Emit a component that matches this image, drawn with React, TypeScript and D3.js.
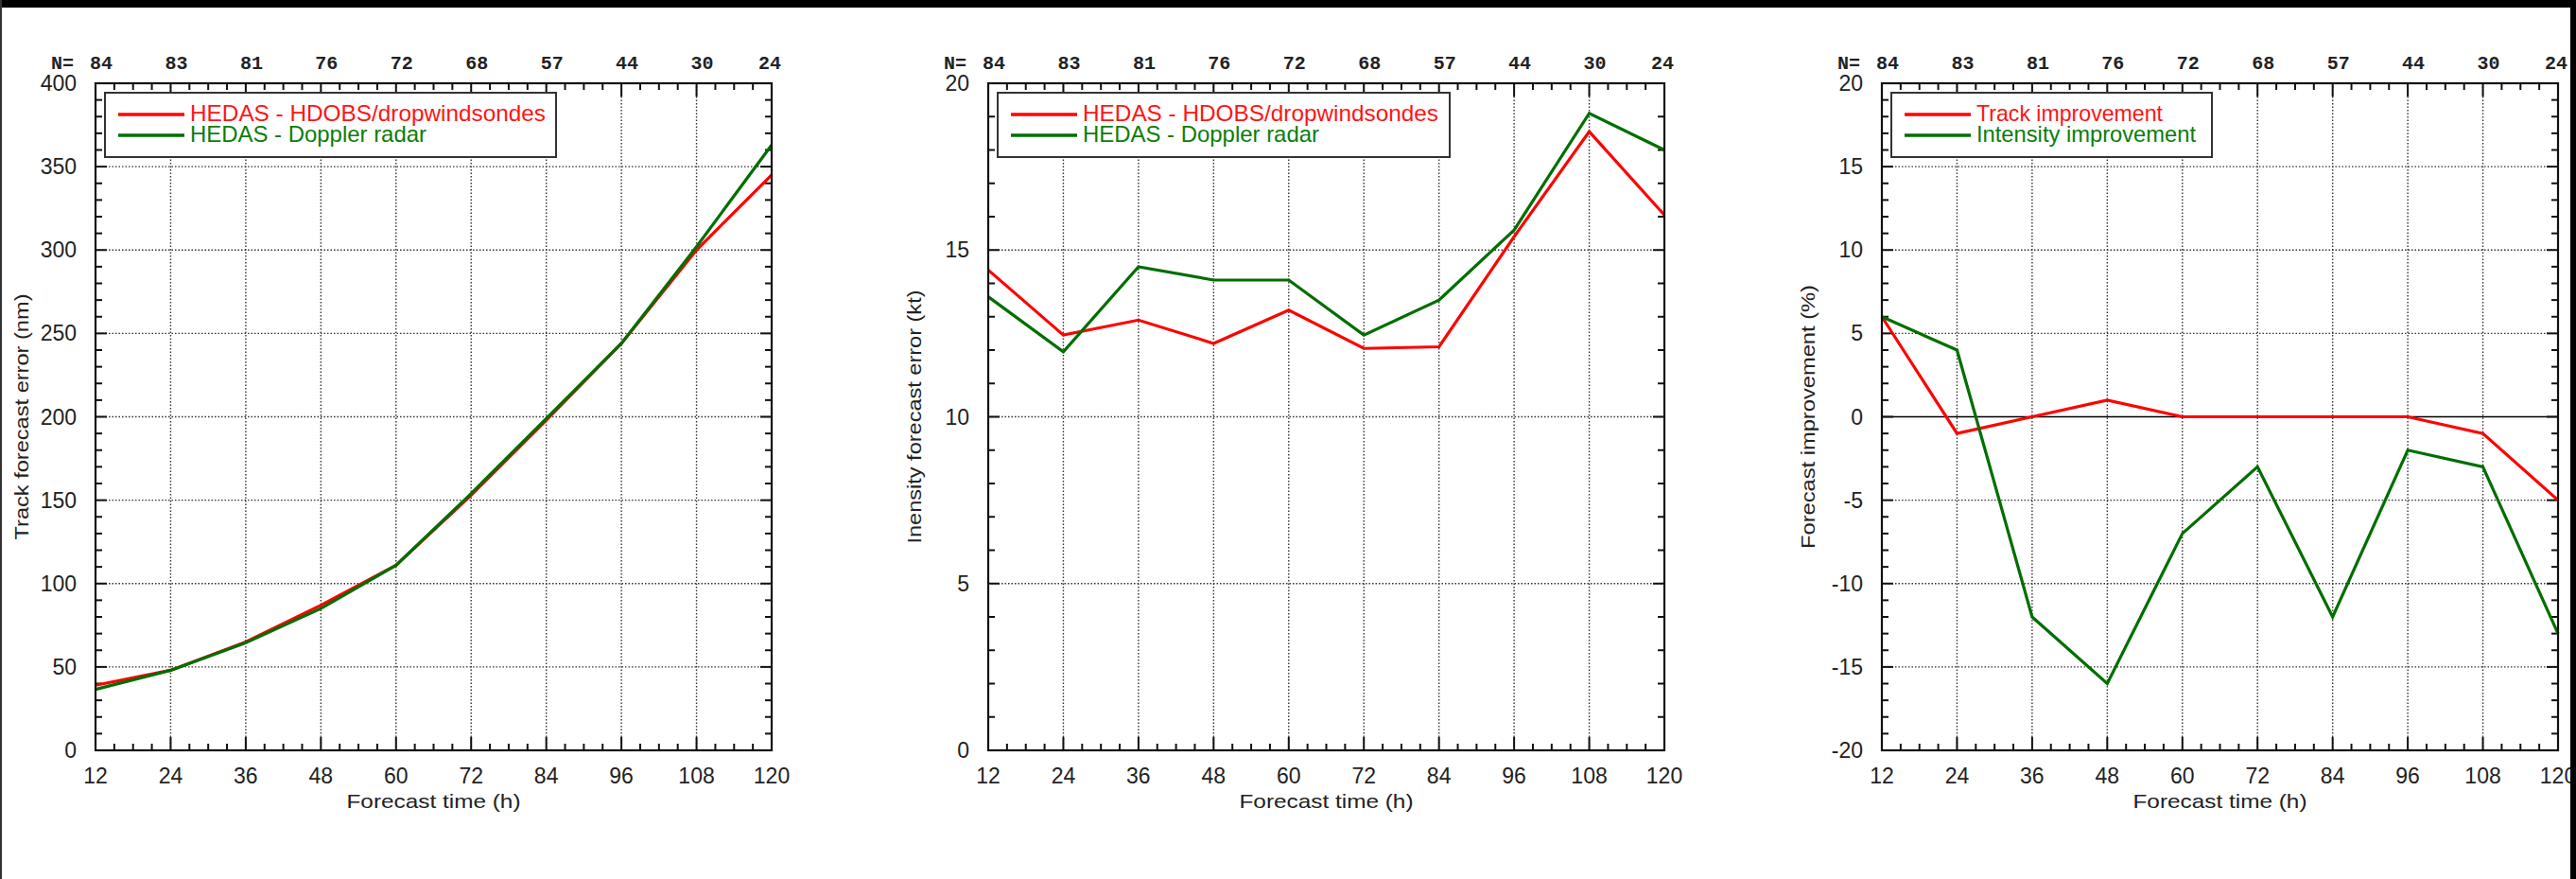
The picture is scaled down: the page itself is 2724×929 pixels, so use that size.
import React from 'react';
import * as d3 from 'd3';

// forecast lead times and sample sizes
const hours = [12, 24, 36, 48, 60, 72, 84, 96, 108, 120];
const sampleN = [84, 83, 81, 76, 72, 68, 57, 44, 30, 24];

// track error (nm)
const trackHdobs = [39, 48, 65, 87, 111, 153, 198, 244, 300, 345];
const trackDoppler = [36.5, 48, 64.5, 85, 111, 154, 199, 244, 302, 363];

// intensity error (kt)
const intHdobs = [14.4, 12.45, 12.9, 12.2, 13.2, 12.05, 12.1, 15.4, 18.55, 16.05];
const intDoppler = [13.6, 11.95, 14.5, 14.1, 14.1, 12.45, 13.5, 15.6, 19.1, 18.0];

// improvement (%)
const trackImp = [6, -1, 0, 1, 0, 0, 0, 0, -1, -5];
const intImp = [6, 4, -12, -16, -7, -3, -12, -2, -3, -13];

const RED = '#ff0000';
const GREEN = '#006e00';
const RED_TXT = '#ff1414';
const GREEN_TXT = '#0b7d0b';
const SANS = '"Liberation Sans", Arial, Helvetica, sans-serif';
const MONO = '"Liberation Mono", "DejaVu Sans Mono", monospace';

const W = 2724, H = 929;
const TOP = 88, PH = 705, PW = 715;

const panels = [
  {
    left: 101, domain: [0, 400], major: 50, minor: 10,
    title: 'Track forecast error (nm)', titleLen: 260,
    series: [trackHdobs, trackDoppler],
    labels: ['HEDAS - HDOBS/dropwindsondes', 'HEDAS - Doppler radar'],
    labelLens: [376, 250], boxW: 477, zero: false,
  },
  {
    left: 1045, domain: [0, 20], major: 5, minor: 1,
    title: 'Inensity forecast error (kt)', titleLen: 268,
    series: [intHdobs, intDoppler],
    labels: ['HEDAS - HDOBS/dropwindsondes', 'HEDAS - Doppler radar'],
    labelLens: [376, 250], boxW: 478, zero: false,
  },
  {
    left: 1990, domain: [-20, 20], major: 5, minor: 1,
    title: 'Forecast improvement (%)', titleLen: 279,
    series: [trackImp, intImp],
    labels: ['Track improvement', 'Intensity improvement'],
    labelLens: [197, 232], boxW: 339, zero: true,
  },
];

function Panel({ p }: { p: typeof panels[number] }) {
  const x = d3.scaleLinear().domain([12, 120]).range([p.left, p.left + PW]);
  const y = d3.scaleLinear().domain(p.domain).range([TOP + PH, TOP]);
  const bottom = TOP + PH, right = p.left + PW;

  const xMajor = d3.range(12, 121, 12);
  const xMinor = d3.range(12, 121, 3).filter(v => (v - 12) % 12 !== 0);
  const yMajor = d3.range(p.domain[0], p.domain[1] + 0.001, p.major);
  const yMinor = d3.range(p.domain[0], p.domain[1] + 0.001, p.minor)
    .filter(v => Math.abs(v / p.major - Math.round(v / p.major)) > 1e-6);

  const line = d3.line<number>().x((_, i) => x(hours[i])).y(d => y(d));
  const colors = [RED, GREEN];
  const txtColors = [RED_TXT, GREEN_TXT];

  const bx = p.left + 10, by = 98, bh = 68;

  return (
    <g>
      {/* grid */}
      {xMajor.slice(1, -1).map(v => (
        <line key={'gx' + v} x1={x(v)} x2={x(v)} y1={TOP} y2={bottom}
          stroke="#333" strokeWidth={1.4} strokeDasharray="1.5 2" />
      ))}
      {yMajor.slice(1, -1).map(v => (
        p.zero && v === 0 ? null :
          <line key={'gy' + v} x1={p.left} x2={right} y1={y(v)} y2={y(v)}
            stroke="#333" strokeWidth={1.4} strokeDasharray="1.5 2" />
      ))}
      {p.zero && <line x1={p.left} x2={right} y1={y(0)} y2={y(0)} stroke="#000" strokeWidth={1.5} />}

      {/* ticks, inward on all four sides */}
      {xMajor.map(v => (
        <g key={'tx' + v}>
          <line x1={x(v)} x2={x(v)} y1={bottom} y2={bottom - 14} stroke="#111" strokeWidth={2} />
          <line x1={x(v)} x2={x(v)} y1={TOP} y2={TOP + 14} stroke="#111" strokeWidth={2} />
        </g>
      ))}
      {xMinor.map(v => (
        <g key={'mx' + v}>
          <line x1={x(v)} x2={x(v)} y1={bottom} y2={bottom - 7} stroke="#111" strokeWidth={2} />
          <line x1={x(v)} x2={x(v)} y1={TOP} y2={TOP + 7} stroke="#111" strokeWidth={2} />
        </g>
      ))}
      {yMajor.map(v => (
        <g key={'ty' + v}>
          <line x1={p.left} x2={p.left + 12} y1={y(v)} y2={y(v)} stroke="#111" strokeWidth={2} />
          <line x1={right} x2={right - 12} y1={y(v)} y2={y(v)} stroke="#111" strokeWidth={2} />
        </g>
      ))}
      {yMinor.map(v => (
        <g key={'my' + v}>
          <line x1={p.left} x2={p.left + 7} y1={y(v)} y2={y(v)} stroke="#111" strokeWidth={2} />
          <line x1={right} x2={right - 7} y1={y(v)} y2={y(v)} stroke="#111" strokeWidth={2} />
        </g>
      ))}

      {/* series */}
      {p.series.map((s, i) => (
        <path key={'s' + i} d={line(s) || ''} fill="none" stroke={colors[i]} strokeWidth={3.2}
          strokeLinejoin="miter" />
      ))}

      {/* frame */}
      <rect x={p.left} y={TOP} width={PW} height={PH} fill="none" stroke="#111" strokeWidth={2.2} />

      {/* tick labels */}
      {yMajor.map(v => (
        <text key={'ly' + v} x={p.left - 20} y={y(v)} textAnchor="end" dominantBaseline="central"
          fontFamily={SANS} fontSize={23} fill="#222">{v}</text>
      ))}
      {xMajor.map(v => (
        <text key={'lx' + v} x={x(v)} y={820} textAnchor="middle" dominantBaseline="central"
          fontFamily={SANS} fontSize={23} fill="#222">{v}</text>
      ))}
      <text x={p.left - 35} y={67} textAnchor="middle" dominantBaseline="central"
        fontFamily={MONO} fontWeight="bold" fontSize={20} fill="#222">N=</text>
      {sampleN.map((n, i) => (
        <text key={'n' + i} x={x(hours[i]) + (i === hours.length - 1 ? -2 : 6)} y={67}
          textAnchor="middle" dominantBaseline="central"
          fontFamily={MONO} fontWeight="bold" fontSize={20} fill="#222">{n}</text>
      ))}

      {/* axis titles */}
      <text x={(p.left + right) / 2} y={846} textAnchor="middle" dominantBaseline="central"
        fontFamily={SANS} fontSize={21} fill="#222" textLength={184} lengthAdjust="spacingAndGlyphs">
        Forecast time (h)
      </text>
      <text transform={`translate(${p.left - 79},${TOP + PH / 2}) rotate(-90)`}
        textAnchor="middle" dominantBaseline="central"
        fontFamily={SANS} fontSize={21} fill="#222" textLength={p.titleLen} lengthAdjust="spacingAndGlyphs">
        {p.title}
      </text>

      {/* legend */}
      <rect x={bx} y={by} width={p.boxW} height={bh} fill="#fff" stroke="#333" strokeWidth={2} />
      {p.labels.map((lab, i) => (
        <g key={'lg' + i}>
          <line x1={bx + 14} x2={bx + 84} y1={121 + i * 22} y2={121 + i * 22}
            stroke={colors[i]} strokeWidth={3.5} />
          <text x={bx + 90} y={128 + i * 22} fontFamily={SANS} fontSize={24} fill={txtColors[i]}
            textLength={p.labelLens[i]} lengthAdjust="spacingAndGlyphs">{lab}</text>
        </g>
      ))}
    </g>
  );
}

export default function App() {
  return (
    <svg width={W} height={H} style={{ position: 'absolute', left: 0, top: 0, background: '#fff' }}>
      <rect x={0} y={0} width={W} height={H} fill="#fff" />
      {panels.map((p, i) => <Panel key={i} p={p} />)}
      {/* outer frame of the scanned figure */}
      <rect x={0} y={0} width={W} height={8} fill="#000" />
      <rect x={W - 6} y={0} width={6} height={H} fill="#000" />
      <rect x={0} y={0} width={2} height={H} fill="#333" />
    </svg>
  );
}
